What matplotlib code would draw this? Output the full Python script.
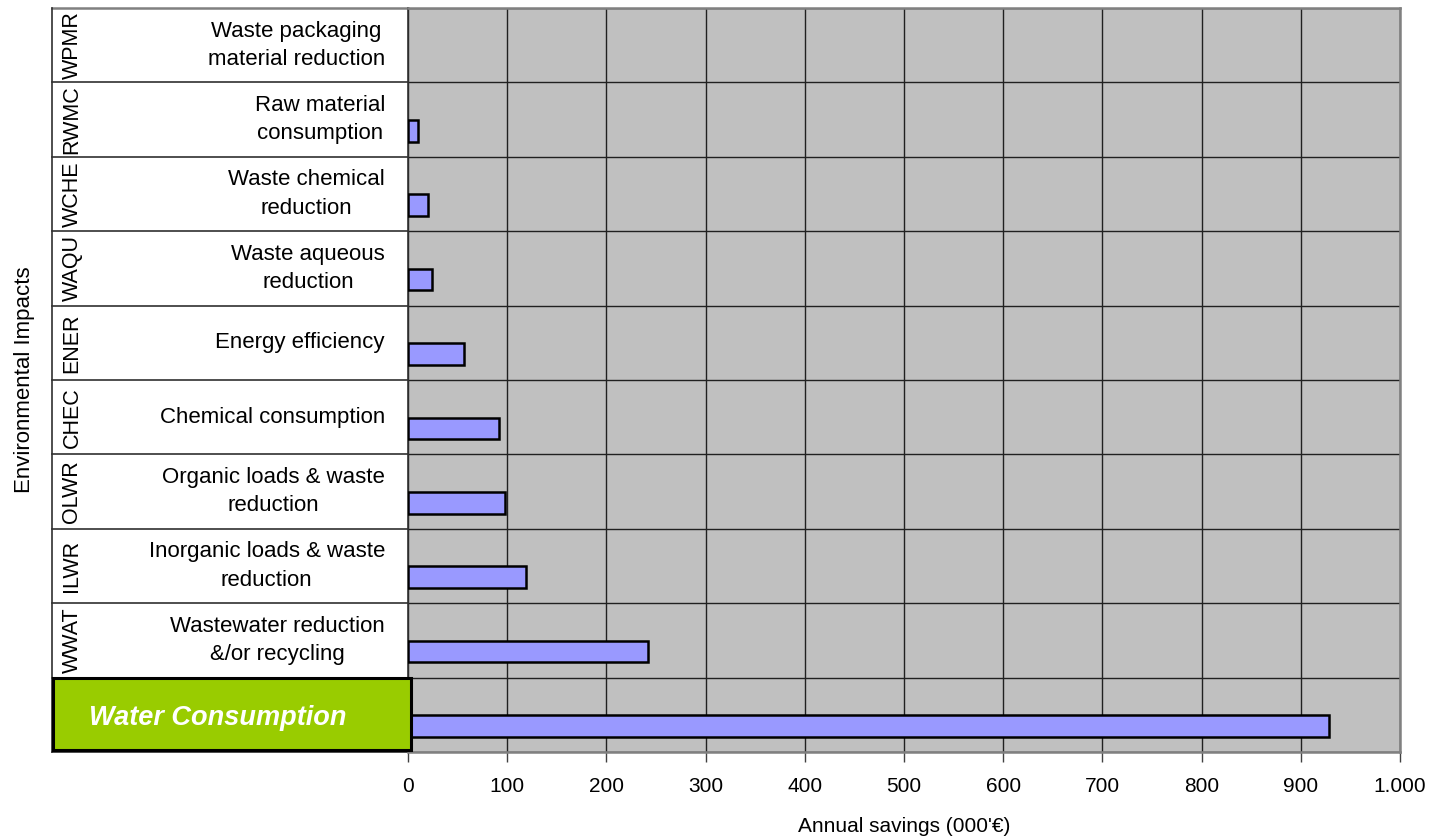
import matplotlib
matplotlib.use('Agg')
import matplotlib.pyplot as plt
from matplotlib.patches import Rectangle

plt.rcParams['font.family'] = ['Liberation Sans', 'DejaVu Sans']

# rows listed top to bottom, as in the picture
codes = ['WPMR', 'RWMC', 'WCHE', 'WAQU', 'ENER', 'CHEC', 'OLWR', 'ILWR', 'WWAT', '']
labels = [
    "Waste packaging\nmaterial reduction",
    "Raw material\nconsumption",
    "Waste chemical\nreduction",
    "Waste aqueous\nreduction",
    "Energy efficiency",
    "Chemical consumption",
    "Organic loads & waste\nreduction",
    "Inorganic loads & waste\nreduction",
    "Wastewater reduction\n&/or recycling",
    "Water Consumption",
]
savings = [0, 10, 20, 24, 56, 92, 98, 119, 242, 928]
xticks = [0, 100, 200, 300, 400, 500, 600, 700, 800, 900, 1000]
xtick_labels = ['0', '100', '200', '300', '400', '500', '600', '700', '800', '900', '1.000']

W, H = 1439, 840
fig = plt.figure(figsize=(W / 100, H / 100), dpi=100)
ax = fig.add_axes([408 / W, 88 / H, 992 / W, 744 / H])
ax.set_facecolor('#C0C0C0')

n = len(codes)
rows = [n - 1 - i for i in range(n)]  # bottom of each row band
bar_y = [r + 0.35 for r in rows]
edge_w = [1.8 if v > 0 else 0 for v in savings]  # no outline for empty bars
ax.barh(bar_y, savings, height=0.29, color='#9999FF', edgecolor='black', linewidth=edge_w, zorder=3)

ax.set_xlim(0, 1000)
ax.set_ylim(0, n)
ax.set_xticks(xticks)
ax.set_xticklabels(xtick_labels, fontsize=15)
ax.set_yticks(range(n + 1))
ax.set_yticklabels([])
ax.tick_params(axis='y', length=0)
ax.tick_params(axis='x', direction='out', length=7, width=1, color='#404040', pad=11)
ax.grid(True, color='#202020', linewidth=1.0, zorder=1)
ax.set_axisbelow(True)

for side in ['top', 'right', 'bottom']:
    ax.spines[side].set_color('#808080')
    ax.spines[side].set_linewidth(1.8)
ax.spines['left'].set_color('#303030')
ax.spines['left'].set_linewidth(1.2)

ax.set_xlabel("Annual savings (000'€)", fontsize=15, labelpad=15)

# left side table
tr = ax.get_yaxis_transform()
x_left = (52 - 408) / 992
ax.add_patch(Rectangle((x_left, 0), -x_left, n, transform=tr, facecolor='white',
                       edgecolor='none', clip_on=False, zorder=0))
for b in range(n + 1):
    c = '#808080' if b == n else '#303030'
    ax.plot([x_left, 0], [b, b], transform=tr, color=c, linewidth=1.2 if b < n else 1.8,
            clip_on=False, zorder=2)
ax.plot([x_left, x_left], [0, n], transform=tr, color='#303030', linewidth=1.2, clip_on=False)

x_lab = (385 - 408) / 992
x_code = (72 - 408) / 992
for i in range(n - 1):
    yc = rows[i] + 0.5
    ax.text(x_lab, yc, labels[i], transform=tr, ha='right', va='center', multialignment='center',
            fontsize=16, linespacing=1.45, color='black')
    ax.text(x_code, yc, codes[i], transform=tr, ha='center', va='center', rotation=90,
            fontsize=15.5, color='black')

# highlighted bottom row
x_box = (53 - 408) / 992
x_box_r = (411 - 408) / 992
ax.add_patch(Rectangle((x_box, 0.03), x_box_r - x_box, 0.96, transform=tr, facecolor='#99CC00',
                       edgecolor='black', linewidth=2.2, clip_on=False, zorder=4))
ax.text((218 - 408) / 992, rows[-1] + 0.46, labels[-1], transform=tr, ha='center', va='center',
        fontsize=19.5, fontweight='bold', fontstyle='italic', color='white', zorder=5)

fig.text(25 / W, 1 - 380 / H, 'Environmental Impacts', rotation=90, ha='center', va='center',
         fontsize=16)

fig.savefig('out.png', dpi=100)
plt.close(fig)
